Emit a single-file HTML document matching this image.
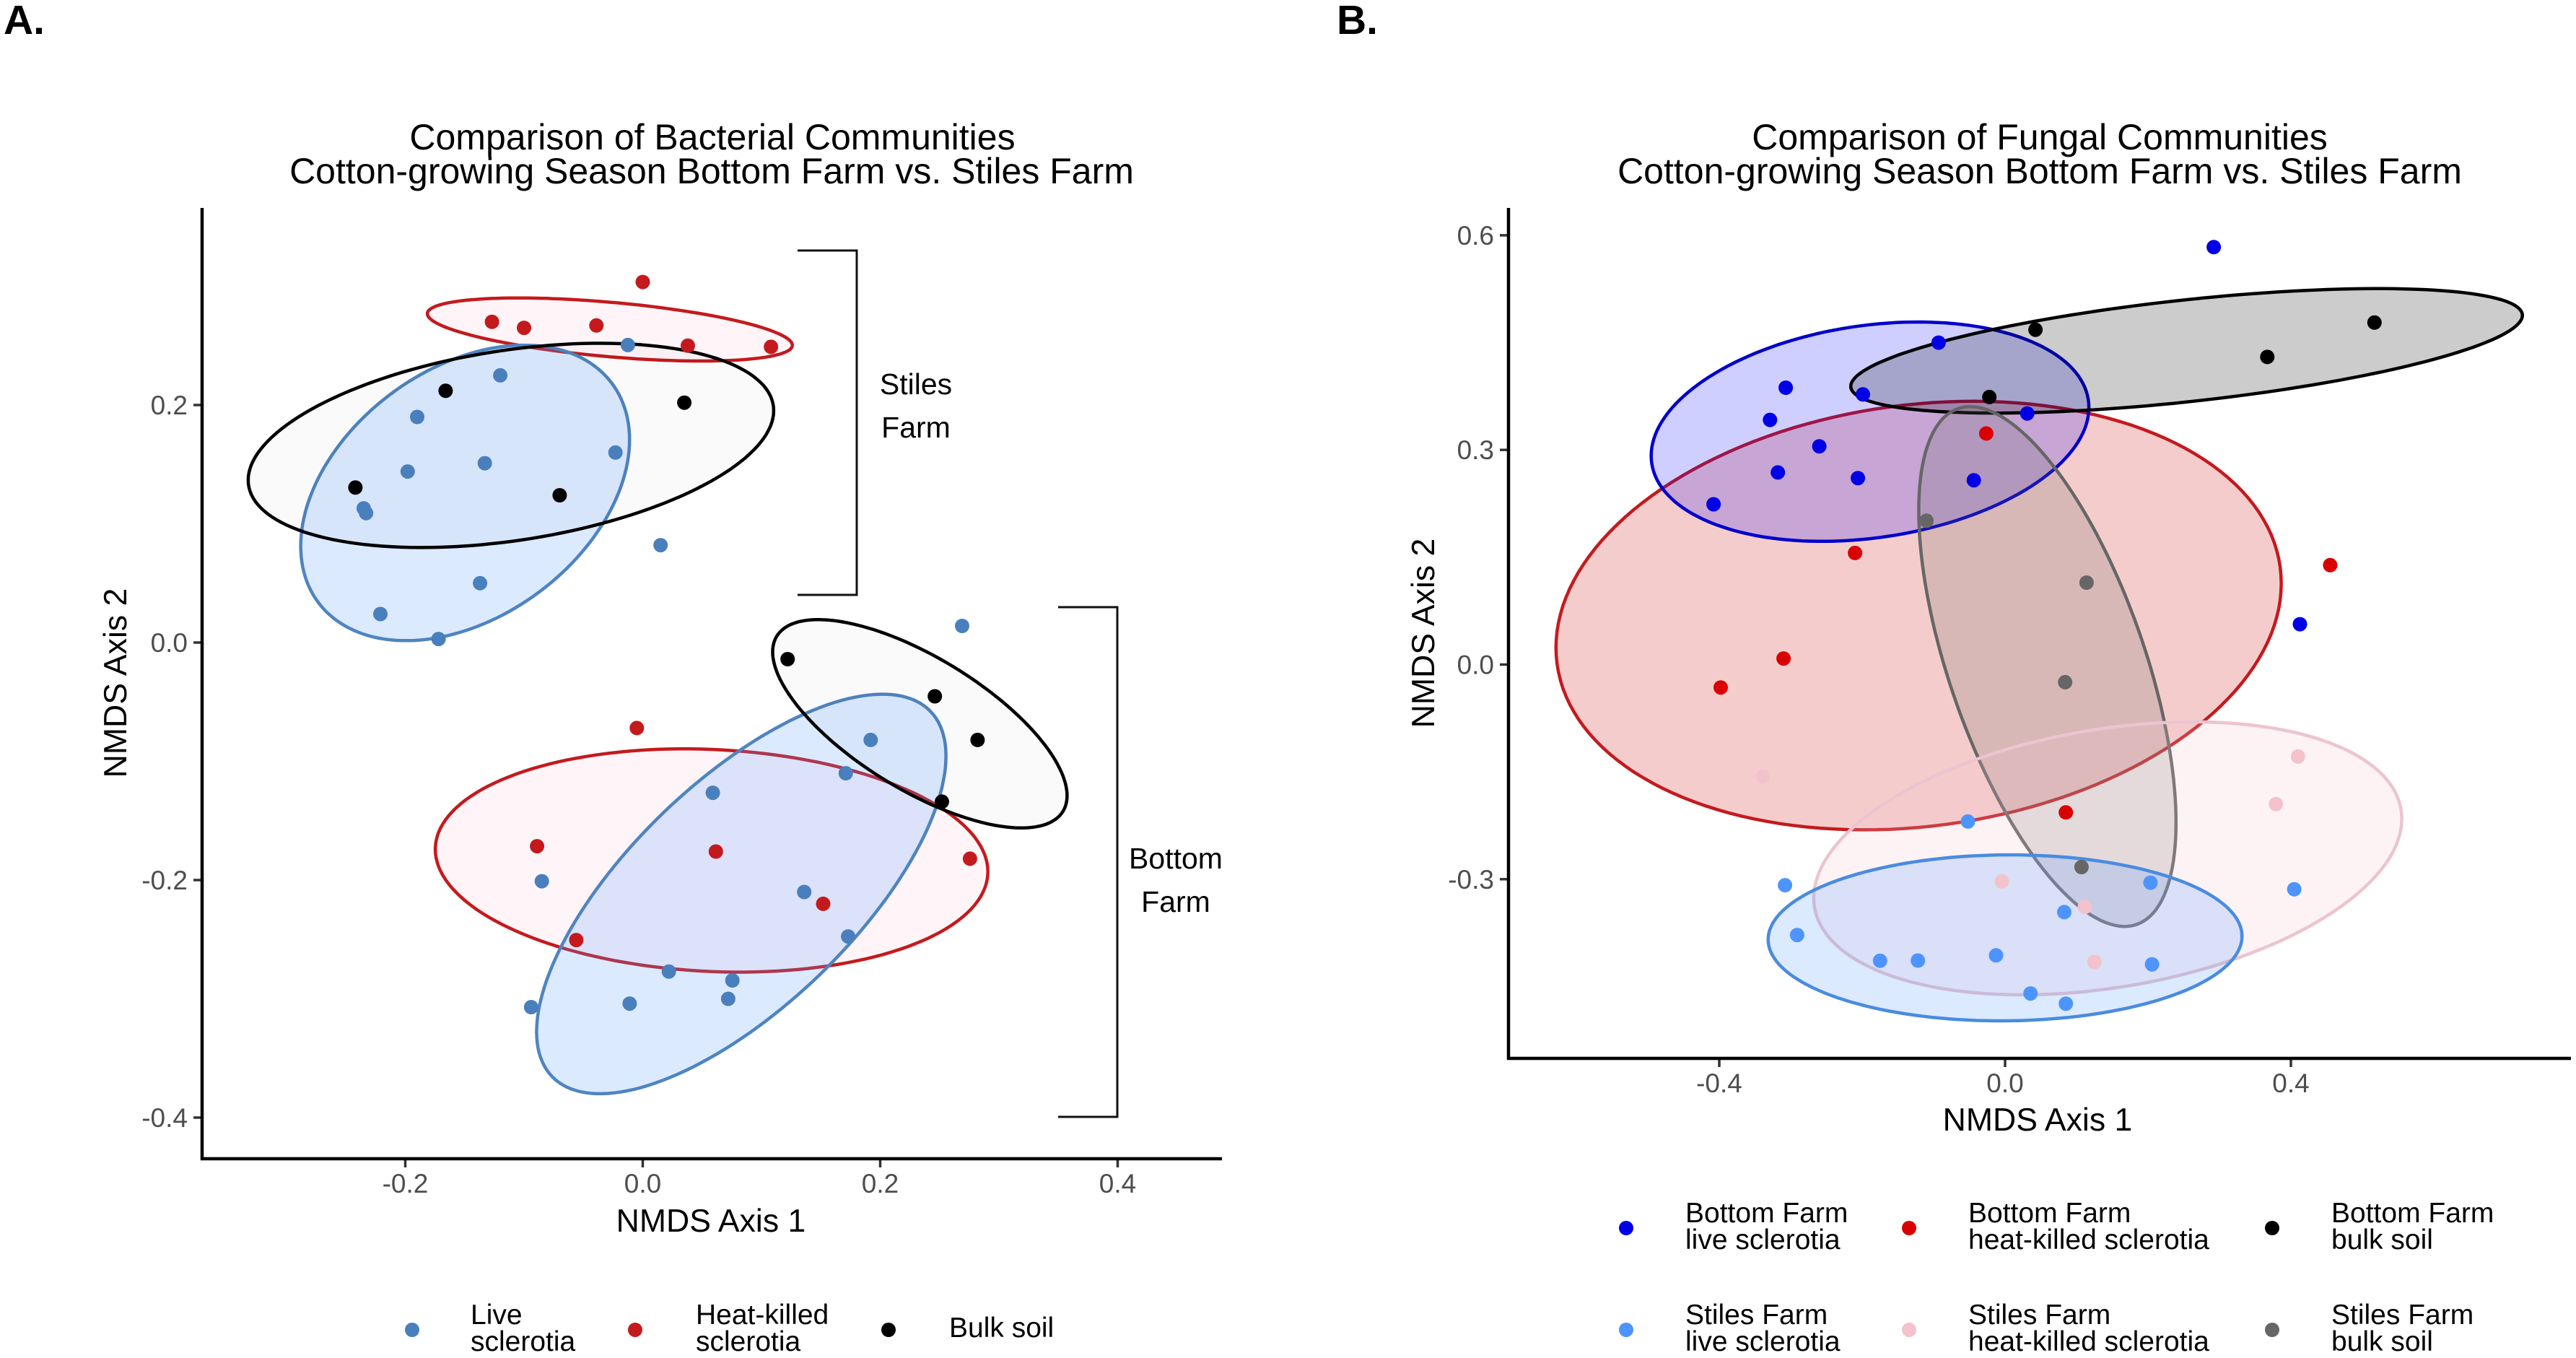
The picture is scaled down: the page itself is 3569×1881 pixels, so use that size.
<!DOCTYPE html>
<html lang="en">
<head>
<meta charset="utf-8">
<title>NMDS comparison of bacterial and fungal communities</title>
<style>
html,body{margin:0;padding:0;background:#fff;width:3569px;height:1881px;overflow:hidden}
svg{display:block}
text{font-family:"Liberation Sans",Arial,sans-serif;fill:#000}
.title{font-size:50px;text-anchor:middle}
.axt{font-size:44.6px;text-anchor:middle}
.leg{font-size:39px}
.ann{font-size:41px;text-anchor:middle}
.pl{font-size:57px;font-weight:bold}
.tick{font-size:37px;fill:#4d4d4d}
</style>
</head>
<body>
<svg id="figure" xmlns="http://www.w3.org/2000/svg" width="3569" height="1881" viewBox="0 0 3569 1881">
  <rect width="3569" height="1881" fill="#fff"/>

  <text class="pl" x="5" y="47">A.</text>
  <text class="pl" x="1852" y="47">B.</text>

  <g id="panelA">
    <text class="title" x="987" y="207">Comparison of Bacterial Communities</text>
    <text class="title" x="986" y="254">Cotton-growing Season Bottom Farm vs. Stiles Farm</text>
    <g id="aEllipses"></g>
    <polyline points="1105,347 1187,347 1187,824 1105,824" fill="none" stroke="#111" stroke-width="3"/>
    <polyline points="1466,841 1548,841 1548,1547 1466,1547" fill="none" stroke="#111" stroke-width="3"/>
    <g id="aPoints"></g>
    <g id="aAxes"></g>
    <line x1="280" y1="288" x2="280" y2="1607" stroke="#000" stroke-width="4.5"/>
    <line x1="278" y1="1605" x2="1693" y2="1605" stroke="#000" stroke-width="4.5"/>
    <text class="axt" x="985" y="1706">NMDS Axis 1</text>
    <text class="axt" transform="translate(175,946) rotate(-90)">NMDS Axis 2</text>
    <text class="ann" x="1269" y="546">Stiles</text>
    <text class="ann" x="1269" y="606">Farm</text>
    <text class="ann" x="1629" y="1203">Bottom</text>
    <text class="ann" x="1629" y="1263">Farm</text>

    <g>
      <circle cx="571" cy="1842" r="10" fill="#4a7fbd"/>
      <text class="leg"><tspan x="652" y="1834">Live</tspan><tspan x="652" y="1871">sclerotia</tspan></text>
      <circle cx="880" cy="1842" r="10" fill="#c41a1e"/>
      <text class="leg"><tspan x="964" y="1834">Heat-killed</tspan><tspan x="964" y="1871">sclerotia</tspan></text>
      <circle cx="1231" cy="1842" r="10" fill="#000"/>
      <text class="leg" x="1315" y="1852">Bulk soil</text>
    </g>
  </g>

  <g id="panelB">
    <text class="title" x="2826" y="207">Comparison of Fungal Communities</text>
    <text class="title" x="2826" y="254">Cotton-growing Season Bottom Farm vs. Stiles Farm</text>
    <g id="bEllipses"></g>
    <g id="bPoints"></g>
    <g id="bAxes"></g>
    <line x1="2090" y1="288" x2="2090" y2="1468" stroke="#000" stroke-width="4.5"/>
    <line x1="2088" y1="1466" x2="3562" y2="1466" stroke="#000" stroke-width="4.5"/>
    <text class="axt" x="2823" y="1566">NMDS Axis 1</text>
    <text class="axt" transform="translate(1987,877) rotate(-90)">NMDS Axis 2</text>

    <g>
      <circle cx="2253" cy="1701" r="10" fill="#0000e6"/>
      <text class="leg"><tspan x="2335" y="1693">Bottom Farm</tspan><tspan x="2335" y="1730">live sclerotia</tspan></text>
      <circle cx="2645" cy="1701" r="10" fill="#d90000"/>
      <text class="leg"><tspan x="2727" y="1693">Bottom Farm</tspan><tspan x="2727" y="1730">heat-killed sclerotia</tspan></text>
      <circle cx="3148" cy="1701" r="10" fill="#000"/>
      <text class="leg"><tspan x="3230" y="1693">Bottom Farm</tspan><tspan x="3230" y="1730">bulk soil</tspan></text>
      <circle cx="2253" cy="1842" r="10" fill="#4d94ff"/>
      <text class="leg"><tspan x="2335" y="1834">Stiles Farm</tspan><tspan x="2335" y="1871">live sclerotia</tspan></text>
      <circle cx="2645" cy="1842" r="10" fill="#f4c2cc"/>
      <text class="leg"><tspan x="2727" y="1834">Stiles Farm</tspan><tspan x="2727" y="1871">heat-killed sclerotia</tspan></text>
      <circle cx="3148" cy="1842" r="10" fill="#666"/>
      <text class="leg"><tspan x="3230" y="1834">Stiles Farm</tspan><tspan x="3230" y="1871">bulk soil</tspan></text>
    </g>
  </g>
</svg>

<script>
// ---------- Panel A data (NMDS axis units) ----------
const aXTickLabels = ["-0.2", "0.0", "0.2", "0.4"];
const aYTickLabels = ["-0.4", "-0.2", "0.0", "0.2"];

const aLiveX = [-0.0125, -0.120, -0.190, -0.023, -0.133, -0.198, -0.235, -0.233, 0.015, -0.137, -0.221, -0.172, 0.269, 0.192, 0.171, 0.059, 0.136, -0.085, 0.173, 0.022, 0.0755, 0.072, -0.011, -0.094];
const aLiveY = [0.2505, 0.225, 0.190, 0.160, 0.151, 0.144, 0.113, 0.109, 0.082, 0.050, 0.024, 0.003, 0.014, -0.082, -0.110, -0.1265, -0.210, -0.201, -0.2475, -0.277, -0.2845, -0.300, -0.304, -0.307];
const aHeatX = [0.000, -0.127, -0.100, -0.039, 0.038, 0.108, -0.005, -0.089, 0.0616, 0.2756, 0.152, -0.056];
const aHeatY = [0.3036, 0.270, 0.265, 0.267, 0.250, 0.249, -0.072, -0.1715, -0.176, -0.182, -0.220, -0.2505];
const aSoilX = [-0.166, 0.035, -0.242, -0.070, 0.122, 0.246, 0.282, 0.252];
const aSoilY = [0.212, 0.202, 0.1305, 0.124, -0.014, -0.0453, -0.082, -0.134];

// Ellipses: centre, half-extents along each axis, correlation
const aEllipseNames = ["stiles-heat-killed", "bottom-heat-killed", "stiles-live", "bottom-live", "stiles-bulk-soil", "bottom-bulk-soil"];
const aEllipseCx = [-0.0277, 0.058, -0.1496, 0.083, -0.111, 0.2334];
const aEllipseCy = [0.2636, -0.1835, 0.126, -0.2117, 0.166, -0.0684];
const aEllipseRx = [0.1537, 0.2327, 0.1385, 0.1724, 0.2213, 0.124];
const aEllipseRy = [0.02655, 0.094, 0.1244, 0.1682, 0.086, 0.0877];
const aEllipseRho = [-0.5, -0.1, 0.36, 0.69, 0.34, -0.69];
const aEllipseFill = ["rgba(255,60,120,.05)", "rgba(255,60,120,.05)", "rgba(90,160,255,.22)", "rgba(90,160,255,.22)", "rgba(0,0,0,.02)", "rgba(0,0,0,.02)"];
const aEllipseStroke = ["#c41a1e", "#c41a1e", "#4f84c0", "#4f84c0", "#000", "#000"];

// ---------- Panel B data (NMDS axis units) ----------
const bXTickLabels = ["-0.4", "0.0", "0.4"];
const bYTickLabels = ["-0.3", "0.0", "0.3", "0.6"];

const bBottomLiveX = [0.292, -0.093, -0.307, -0.199, -0.329, 0.031, -0.260, -0.318, -0.206, -0.0437, -0.408, 0.4126];
const bBottomLiveY = [0.5835, 0.450, 0.387, 0.3776, 0.342, 0.351, 0.305, 0.2685, 0.2606, 0.2576, 0.224, 0.0564];
const bBottomHeatX = [-0.0264, -0.210, 0.455, -0.310, -0.398, 0.085];
const bBottomHeatY = [0.323, 0.156, 0.139, 0.0085, -0.032, -0.2067];
const bBottomSoilX = [0.0425, 0.517, 0.367, -0.022];
const bBottomSoilY = [0.468, 0.478, 0.430, 0.374];
const bStilesSoilX = [-0.110, 0.114, 0.084, 0.107];
const bStilesSoilY = [0.201, 0.1145, -0.0246, -0.283];
const bStilesLiveX = [-0.052, -0.308, 0.2034, 0.0828, 0.4046, -0.291, -0.175, -0.122, -0.0126, 0.2057, 0.0356, 0.085];
const bStilesLiveY = [-0.2194, -0.3084, -0.3048, -0.346, -0.314, -0.378, -0.414, -0.4137, -0.4065, -0.419, -0.4597, -0.474];
const bStilesHeatX = [-0.339, 0.410, 0.379, -0.0046, 0.1115, 0.125];
const bStilesHeatY = [-0.1565, -0.1286, -0.195, -0.303, -0.3387, -0.4156];

const bEllipseNames = ["bottom-heat-killed", "bottom-live", "bottom-bulk-soil", "stiles-bulk-soil", "stiles-heat-killed", "stiles-live"];
const bEllipseCx = [-0.121, -0.189, 0.254, 0.0592, 0.1437, 0.000];
const bEllipseCy = [0.0685, 0.3255, 0.4385, -0.0027, -0.2709, -0.382];
const bEllipseRx = [0.5075, 0.3063, 0.470, 0.180, 0.4115, 0.3316];
const bEllipseRy = [0.2995, 0.1533, 0.087, 0.3633, 0.1907, 0.116];
const bEllipseRho = [0.15, 0.22, 0.57, -0.6, 0.29, 0.02];
const bEllipseFill = ["rgba(204,0,0,.2)", "rgba(0,0,255,.19)", "rgba(0,0,0,.2)", "rgba(102,102,102,.2)", "rgba(244,194,204,.2)", "rgba(77,148,255,.2)"];
const bEllipseStroke = ["#c41a1e", "#0000cc", "#000", "#666", "#ecc4d0", "#4a8be0"];

// ---------- Axis functions ----------
function axScaleX(v) { return 890.5 + v * 1645; }
function ayScaleY(v) { return 890 - v * 1645; }
function bxScaleX(v) { return 2778 + v * 990; }
function byScaleY(v) { return 920.5 - v * 991; }

const NS = "http://www.w3.org/2000/svg";

function drawEllipse(parent, name, cx, cy, rx, ry, rho, sx, sy, fill, stroke) {
  const k = Math.sqrt(1 - rho * rho);
  let d = "";
  for (let i = 0; i < 160; i++) {
    const t = i / 160 * Math.PI * 2;
    const X = cx + rx * Math.cos(t);
    const Y = cy + ry * (rho * Math.cos(t) + k * Math.sin(t));
    d += (i ? "L" : "M") + sx(X).toFixed(1) + " " + sy(Y).toFixed(1);
  }
  const p = document.createElementNS(NS, "path");
  
  
  p.setAttribute("d", d + "Z");
  p.setAttribute("fill", fill);
  p.setAttribute("stroke", stroke);
  p.setAttribute("stroke-width", "4.5");
  parent.appendChild(p);
}

function drawPoints(parent, name, xs, ys, sx, sy, color) {
  xs.forEach(function (x, i) {
    const c = document.createElementNS(NS, "circle");
    
    
    c.setAttribute("cx", sx(x).toFixed(1));
    c.setAttribute("cy", sy(ys[i]).toFixed(1));
    c.setAttribute("r", "10");
    c.setAttribute("fill", color);
    parent.appendChild(c);
  });
}

function drawAxes(parent, prefix, xLabels, yLabels, sx, sy, axisX, axisY, xLabelY) {
  xLabels.forEach(function (lab) {
    const px = sx(parseFloat(lab));
    const l = document.createElementNS(NS, "line");
    
    
    l.setAttribute("x1", px); l.setAttribute("x2", px);
    l.setAttribute("y1", axisY); l.setAttribute("y2", axisY + 12);
    l.setAttribute("stroke", "#333"); l.setAttribute("stroke-width", "3.5");
    parent.appendChild(l);
    const t = document.createElementNS(NS, "text");
    
    
    t.setAttribute("class", "tick");
    t.setAttribute("x", px); t.setAttribute("y", xLabelY);
    t.setAttribute("text-anchor", "middle");
    t.textContent = lab;
    parent.appendChild(t);
  });
  yLabels.forEach(function (lab) {
    const py = sy(parseFloat(lab));
    const l = document.createElementNS(NS, "line");
    
    
    l.setAttribute("x1", axisX - 12); l.setAttribute("x2", axisX);
    l.setAttribute("y1", py); l.setAttribute("y2", py);
    l.setAttribute("stroke", "#333"); l.setAttribute("stroke-width", "3.5");
    parent.appendChild(l);
    const t = document.createElementNS(NS, "text");
    
    
    t.setAttribute("class", "tick");
    t.setAttribute("x", axisX - 20); t.setAttribute("y", py + 13);
    t.setAttribute("text-anchor", "end");
    t.textContent = lab;
    parent.appendChild(t);
  });
}

// ---------- Render panel A ----------
const aEl = document.getElementById("aEllipses");
aEllipseNames.forEach(function (n, i) {
  drawEllipse(aEl, n, aEllipseCx[i], aEllipseCy[i], aEllipseRx[i], aEllipseRy[i], aEllipseRho[i], axScaleX, ayScaleY, aEllipseFill[i], aEllipseStroke[i]);
});
const aPt = document.getElementById("aPoints");
drawPoints(aPt, "live-sclerotia", aLiveX, aLiveY, axScaleX, ayScaleY, "#4a7fbd");
drawPoints(aPt, "heat-killed-sclerotia", aHeatX, aHeatY, axScaleX, ayScaleY, "#c41a1e");
drawPoints(aPt, "bulk-soil", aSoilX, aSoilY, axScaleX, ayScaleY, "#000");
drawAxes(document.getElementById("aAxes"), "bacterial", aXTickLabels, aYTickLabels, axScaleX, ayScaleY, 280, 1605, 1652);

// ---------- Render panel B ----------
const bEl = document.getElementById("bEllipses");
bEllipseNames.forEach(function (n, i) {
  drawEllipse(bEl, n, bEllipseCx[i], bEllipseCy[i], bEllipseRx[i], bEllipseRy[i], bEllipseRho[i], bxScaleX, byScaleY, bEllipseFill[i], bEllipseStroke[i]);
});
const bPt = document.getElementById("bPoints");
drawPoints(bPt, "stiles-heat-killed", bStilesHeatX, bStilesHeatY, bxScaleX, byScaleY, "#f4c2cc");
drawPoints(bPt, "stiles-live", bStilesLiveX, bStilesLiveY, bxScaleX, byScaleY, "#4d94ff");
drawPoints(bPt, "stiles-bulk-soil", bStilesSoilX, bStilesSoilY, bxScaleX, byScaleY, "#666");
drawPoints(bPt, "bottom-live", bBottomLiveX, bBottomLiveY, bxScaleX, byScaleY, "#0000e6");
drawPoints(bPt, "bottom-heat-killed", bBottomHeatX, bBottomHeatY, bxScaleX, byScaleY, "#d90000");
drawPoints(bPt, "bottom-bulk-soil", bBottomSoilX, bBottomSoilY, bxScaleX, byScaleY, "#000");
drawAxes(document.getElementById("bAxes"), "fungal", bXTickLabels, bYTickLabels, bxScaleX, byScaleY, 2090, 1466, 1513);
</script>
</body>
</html>
